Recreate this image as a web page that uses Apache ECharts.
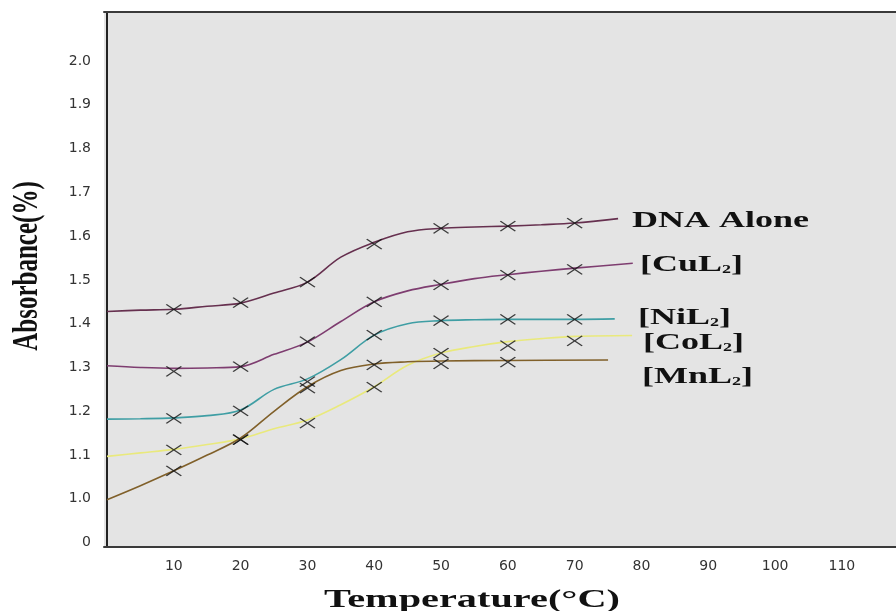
<!DOCTYPE html>
<html>
<head>
<meta charset="utf-8">
<script src="https://cdn.jsdelivr.net/npm/echarts@6/dist/echarts.min.js"></script>
<style>
  html, body { margin: 0; padding: 0; background: #fff; }
  #main { width: 896px; height: 611px; }
</style>
</head>
<body>
<div id="main"></div>
<script>
// tick labels
const xTicks = [10, 20, 30, 40, 50, 60, 70, 80, 90, 100, 110]
const yTicks = [0.9, 1.0, 1.1, 1.2, 1.3, 1.4, 1.5, 1.6, 1.7, 1.8, 1.9, 2.0]
const yTickLabels = ['0', '1.0', '1.1', '1.2', '1.3', '1.4', '1.5', '1.6', '1.7', '1.8', '1.9', '2.0']

// fitted curves, [temperature, absorbance]
const dnaLine = [[0, 1.428], [5, 1.431], [10, 1.433], [15, 1.440], [20, 1.447], [25, 1.470], [30, 1.495], [35, 1.552], [40, 1.586], [45, 1.610], [50, 1.618], [55, 1.621], [60, 1.623], [65, 1.626], [70, 1.630], [76.5, 1.640]]
const cuLine = [[0, 1.304], [5, 1.300], [10, 1.298], [15, 1.299], [20, 1.302], [25, 1.330], [30, 1.358], [35, 1.405], [40, 1.450], [45, 1.475], [50, 1.490], [55, 1.503], [60, 1.512], [65, 1.520], [70, 1.527], [78.7, 1.538]]
const niLine = [[0, 1.182], [5, 1.183], [10, 1.185], [15, 1.190], [20, 1.203], [25, 1.250], [30, 1.274], [35, 1.318], [40, 1.374], [45, 1.400], [50, 1.407], [55, 1.409], [60, 1.410], [70, 1.410], [76, 1.411]]
const coLine = [[0, 1.097], [5, 1.105], [10, 1.113], [15, 1.124], [20, 1.137], [25, 1.160], [30, 1.180], [35, 1.215], [40, 1.256], [45, 1.305], [50, 1.333], [55, 1.348], [60, 1.359], [65, 1.366], [70, 1.371], [78.6, 1.373]]
const mnLine = [[0, 0.998], [5, 1.030], [10, 1.064], [15, 1.100], [20, 1.139], [25, 1.200], [30, 1.256], [35, 1.293], [40, 1.308], [45, 1.313], [50, 1.315], [60, 1.316], [75, 1.317]]

// measured points (x marks)
const dnaMarks = [[10, 1.433], [20, 1.448], [30, 1.495], [40, 1.582], [50, 1.618], [60, 1.623], [70, 1.630]]
const cuMarks = [[10, 1.291], [20, 1.302], [30, 1.359], [40, 1.450], [50, 1.489], [60, 1.511], [70, 1.524]]
const niMarks = [[10, 1.184], [20, 1.201], [30, 1.268], [40, 1.374], [50, 1.407], [60, 1.410], [70, 1.410]]
const coMarks = [[10, 1.112], [20, 1.135], [30, 1.173], [40, 1.255], [50, 1.333], [60, 1.350], [70, 1.361]]
const mnMarks = [[10, 1.064], [20, 1.135], [30, 1.253], [40, 1.306], [50, 1.308], [60, 1.312]]

const compounds = [
    { name: 'DNA Alone', line: dnaLine, marks: dnaMarks, color: '#66304f' },
    { name: '[CuL2]', line: cuLine, marks: cuMarks, color: '#7e3d70' },
    { name: '[NiL2]', line: niLine, marks: niMarks, color: '#3f9ea4' },
    { name: '[CoL2]', line: coLine, marks: coMarks, color: '#e9e97c' },
    { name: '[MnL2]', line: mnLine, marks: mnMarks, color: '#80602a' }
]

const serif = '"Liberation Serif", "Times New Roman", serif'
const crossPath = 'path://M0,0L15,10M15,0L0,10'

let series = []
compounds.forEach(c => {
    series.push({
        name: c.name,
        type: 'line',
        data: c.line,
        smooth: 0.35,
        symbol: 'none',
        lineStyle: { color: c.color, width: 1.6 },
        z: 2
    })
    series.push({
        name: c.name + ' pts',
        type: 'scatter',
        data: c.marks,
        symbol: crossPath,
        symbolSize: [15, 10],
        itemStyle: { color: 'rgba(0,0,0,0)', borderColor: '#111', borderWidth: 1.3 },
        z: 3
    })
})

function seriesLabel(x, y, main, sub, tail) {
    let text = sub ? '{a|' + main + '}{s|' + sub + '}{a|' + tail + '}' : '{a|' + main + '}'
    return {
        type: 'text',
        x: x,
        y: y,
        scaleX: 1.5,
        style: {
            text: text,
            textAlign: 'left',
            textVerticalAlign: 'middle',
            fill: '#111',
            rich: {
                a: { fontFamily: serif, fontWeight: 'bold', fontSize: 24, color: '#111' },
                s: { fontFamily: serif, fontWeight: 'bold', fontSize: 12, color: '#111', padding: [10, 0, 0, 0] }
            }
        }
    }
}

const chart = echarts.init(document.getElementById('main'))
chart.setOption({
    animation: false,
    backgroundColor: '#fff',
    grid: {
        left: 104, top: 12, right: 0, bottom: 64,
        show: true, backgroundColor: '#e4e4e4', borderWidth: 0
    },
    xAxis: [{
        type: 'value',
        min: -0.45,
        max: 118.1,
        splitLine: { show: false },
        axisTick: { show: false },
        axisLine: { show: true, lineStyle: { color: '#3a3a3a', width: 2 } },
        axisLabel: {
            customValues: xTicks,
            margin: 12,
            color: '#333',
            fontFamily: '"DejaVu Sans", sans-serif',
            fontSize: 14
        }
    }, {
        type: 'value',
        position: 'top',
        min: -0.45,
        max: 118.1,
        splitLine: { show: false },
        axisTick: { show: false },
        axisLabel: { show: false },
        axisLine: { show: true, lineStyle: { color: '#3a3a3a', width: 2 } }
    }],
    yAxis: {
        type: 'value',
        min: 0.89,
        max: 2.112,
        splitLine: { show: false },
        axisTick: { show: false },
        axisLine: { show: true, lineStyle: { color: '#222', width: 2 } },
        axisLabel: {
            customValues: yTicks,
            margin: 13,
            color: '#333',
            fontFamily: '"DejaVu Sans", sans-serif',
            fontSize: 14,
            formatter: v => {
                let i = yTicks.findIndex(t => Math.abs(t - v) < 1e-6)
                return i >= 0 ? yTickLabels[i] : ''
            }
        }
    },
    series: series,
    graphic: [
        {
            type: 'text',
            x: 28,
            y: 266,
            rotation: Math.PI / 2,
            scaleY: 1.45,
            style: {
                text: 'Absorbance(%)',
                font: 'bold 25px ' + serif,
                fill: '#111',
                textAlign: 'center',
                textVerticalAlign: 'middle'
            }
        },
        {
            type: 'text',
            x: 472,
            y: 600,
            scaleX: 1.55,
            style: {
                text: 'Temperature(°C)',
                font: 'bold 26px ' + serif,
                fill: '#111',
                textAlign: 'center',
                textVerticalAlign: 'middle'
            }
        },
        seriesLabel(632, 221, 'DNA Alone'),
        seriesLabel(640, 265, '[CuL', '2', ']'),
        seriesLabel(638, 318, '[NiL', '2', ']'),
        seriesLabel(643, 343, '[CoL', '2', ']'),
        seriesLabel(642, 377, '[MnL', '2', ']')
    ]
})
</script>
</body>
</html>
